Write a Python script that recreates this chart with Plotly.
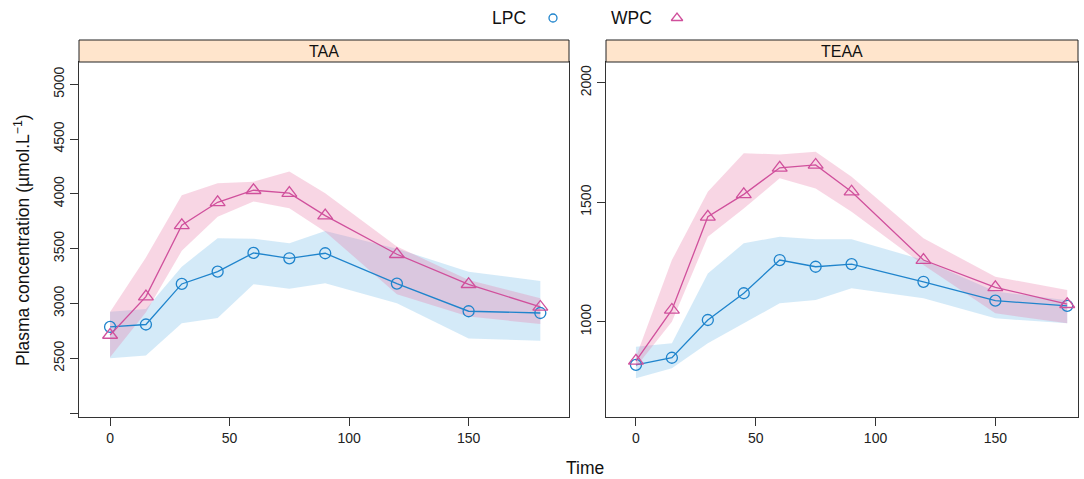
import plotly.graph_objects as go

# Sampling times (min)
time = [0, 15, 30, 45, 60, 75, 90, 120, 150, 180]

# TAA (total amino acids), µmol/L
taa_lpc = [2786, 2808, 3178, 3290, 3461, 3412, 3458, 3181, 2929, 2913]
taa_lpc_lo = [2500, 2525, 2819, 2868, 3175, 3135, 3184, 3002, 2680, 2660]
taa_lpc_hi = [2925, 2950, 3336, 3595, 3590, 3549, 3660, 3500, 3290, 3205]

taa_wpc = [2712, 3062, 3713, 3923, 4033, 4006, 3801, 3449, 3175, 2968]
taa_wpc_lo = [2510, 2920, 3480, 3792, 3930, 3869, 3655, 3085, 2880, 2813]
taa_wpc_hi = [2923, 3420, 3988, 4097, 4111, 4203, 4006, 3520, 3215, 3047]

# TEAA (total essential amino acids), µmol/L
teaa_lpc = [819, 849, 1007, 1119, 1258, 1230, 1241, 1167, 1088, 1066]
teaa_lpc_lo = [763, 805, 910, 993, 1077, 1091, 1140, 1098, 1014, 993]
teaa_lpc_hi = [895, 910, 1202, 1328, 1356, 1345, 1345, 1258, 1126, 1090]

teaa_wpc = [836, 1049, 1439, 1533, 1644, 1656, 1544, 1258, 1144, 1073]
teaa_wpc_lo = [810, 1000, 1356, 1474, 1600, 1558, 1460, 1237, 1035, 993]
teaa_wpc_hi = [852, 1258, 1544, 1705, 1700, 1711, 1607, 1349, 1188, 1133]

groups = ["LPC", "WPC"]
panels = ["TAA", "TEAA"]

# tick positions
x_ticks = [0, 50, 100, 150]
taa_ticks = [2500, 3000, 3500, 4000, 4500, 5000]
taa_minor = [2000]
teaa_ticks = [1000, 1500, 2000]

W, H = 1084, 479
BLUE = "#1f84cc"
PINK = "#d0509c"
BLUE_BAND = "rgba(112,185,232,0.30)"
PINK_BAND = "rgba(232,118,165,0.30)"
FONT = "Liberation Sans, Arial, sans-serif"
AXCOL = "#333333"


def px(x):
    return x / W


def py(y):
    return (H - y) / H


fig = go.Figure()

panel_data = [
    ("x", "y", [(taa_lpc, taa_lpc_lo, taa_lpc_hi), (taa_wpc, taa_wpc_lo, taa_wpc_hi)]),
    ("x2", "y2", [(teaa_lpc, teaa_lpc_lo, teaa_lpc_hi), (teaa_wpc, teaa_wpc_lo, teaa_wpc_hi)]),
]
styles = [
    (BLUE, BLUE_BAND, "circle-open", 11),
    (PINK, PINK_BAND, "triangle-up-open", 13),
]

for xa, ya, series in panel_data:
    # bands first, then lines with markers on top
    for (mean, lo, hi), (col, band, sym, size) in zip(series, styles):
        fig.add_trace(go.Scatter(
            x=time + time[::-1], y=hi + lo[::-1], xaxis=xa, yaxis=ya,
            fill="toself", fillcolor=band, line=dict(width=0),
            mode="lines", hoverinfo="skip", showlegend=False))
    for (mean, lo, hi), (col, band, sym, size), name in zip(series, styles, groups):
        fig.add_trace(go.Scatter(
            x=time, y=mean, xaxis=xa, yaxis=ya, name=name,
            mode="lines+markers", line=dict(color=col, width=1.3),
            marker=dict(symbol=sym, size=size, color=col,
                        line=dict(color=col, width=1.3)),
            showlegend=False))

# key symbols at the top of the page
fig.add_trace(go.Scatter(
    x=[553], y=[18], xaxis="x3", yaxis="y3", mode="markers",
    marker=dict(symbol="circle-open", size=8, color=BLUE, line=dict(color=BLUE, width=1.3)),
    showlegend=False, hoverinfo="skip"))
fig.add_trace(go.Scatter(
    x=[677], y=[18], xaxis="x3", yaxis="y3", mode="markers",
    marker=dict(symbol="triangle-up-open", size=10, color=PINK, line=dict(color=PINK, width=1.3)),
    showlegend=False, hoverinfo="skip"))

left_dom = [px(79), px(569)]
right_dom = [px(606), px(1078)]
ydom = [py(417), py(62)]

common_x = dict(showline=True, linecolor=AXCOL, linewidth=1, mirror=True,
                ticks="outside", ticklen=8, tickcolor=AXCOL, showgrid=False,
                zeroline=False, tickvals=x_ticks,
                tickfont=dict(family=FONT, size=14, color="#222"))
common_y = dict(showline=True, linecolor=AXCOL, linewidth=1, mirror=True,
                ticks="outside", ticklen=8, tickcolor=AXCOL, showgrid=False,
                zeroline=False, tickangle=-90,
                tickfont=dict(family=FONT, size=14, color="#222"))

fig.update_layout(
    width=W, height=H,
    margin=dict(l=0, r=0, t=0, b=0),
    paper_bgcolor="white", plot_bgcolor="white",
    xaxis=dict(domain=left_dom, range=[-13, 192], anchor="y", **common_x),
    yaxis=dict(domain=ydom, range=[1964, 5203], anchor="x", tickvals=taa_ticks,
               minor=dict(tickvals=taa_minor, ticks="outside", ticklen=8,
                          tickcolor=AXCOL, showgrid=False),
               **common_y),
    xaxis2=dict(domain=right_dom, range=[-12.5, 184.5], anchor="y2", **common_x),
    yaxis2=dict(domain=ydom, range=[601, 2087], anchor="x2",
                tickvals=teaa_ticks, **common_y),
    xaxis3=dict(domain=[0, 1], range=[0, W], visible=False, fixedrange=True),
    yaxis3=dict(domain=[py(40), 1], range=[40, 0], visible=False, fixedrange=True,
                anchor="x3"),
    showlegend=False,
)

# strips with panel names
shapes = []
annotations = []
for dom, label in zip([left_dom, right_dom], panels):
    shapes.append(dict(type="rect", xref="paper", yref="paper",
                       x0=dom[0], x1=dom[1], y0=py(62), y1=py(40),
                       fillcolor="#ffe5cc", line=dict(color="#222", width=1)))
    annotations.append(dict(text=label, xref="paper", yref="paper",
                            x=(dom[0] + dom[1]) / 2, y=py(51), showarrow=False,
                            font=dict(family=FONT, size=16, color="#111"),
                            xanchor="center", yanchor="middle"))

# key labels
annotations.append(dict(text="LPC", xref="paper", yref="paper", x=px(509), y=py(18),
                        showarrow=False, font=dict(family=FONT, size=17.5, color="#111"),
                        xanchor="center", yanchor="middle"))
annotations.append(dict(text="WPC", xref="paper", yref="paper", x=px(631), y=py(18),
                        showarrow=False, font=dict(family=FONT, size=17.5, color="#111"),
                        xanchor="center", yanchor="middle"))

# axis titles
annotations.append(dict(text="Plasma concentration (µmol.L<sup>−1</sup>)",
                        xref="paper", yref="paper", x=px(22), y=py(240),
                        textangle=-90, showarrow=False,
                        font=dict(family=FONT, size=17.5, color="#111"),
                        xanchor="center", yanchor="middle"))
annotations.append(dict(text="Time", xref="paper", yref="paper", x=px(585), y=py(468),
                        showarrow=False, font=dict(family=FONT, size=17.5, color="#111"),
                        xanchor="center", yanchor="middle"))

fig.update_layout(shapes=shapes, annotations=annotations)

fig.write_html("out.html")
